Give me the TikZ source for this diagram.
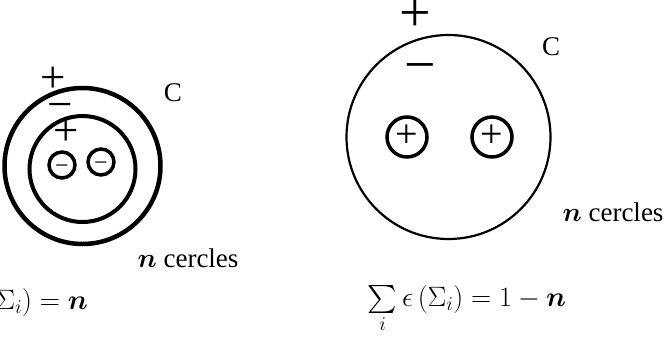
\RequirePackage{fix-cm}
\documentclass[tikz,border=0pt]{standalone}
\usepackage{amsmath,amssymb}
\usepackage{bm}
\usepackage{fontspec}
\setmainfont{Liberation Serif}
\usetikzlibrary{positioning}

\tikzset{
  ring/.style={circle, draw, line width=3.5pt, inner sep=0pt, text depth=0pt},
  sign/.style={inner sep=0pt, text height=22.5pt, text depth=0pt, font=\fontsize{45}{45}\selectfont},
  bigsign/.style={sign, text height=28pt, font=\fontsize{56}{56}\selectfont},
  lbl/.style={inner sep=0pt, font=\fontsize{27}{30}\selectfont},
  formula/.style={inner sep=0pt, font=\fontsize{28}{31}\selectfont}
}

\begin{document}
\begin{tikzpicture}[x=1pt,y=-1pt]
  \useasboundingbox (0,0) rectangle (666,349);
  \clip (0,0) rectangle (666,349);
  % Left: C enclosing one circle with two holes
  \begin{scope}
    \draw[line width=4.5pt] (82.5,166) circle (78);
    \draw[line width=4pt] (82.5,169) circle (53);
    \node[ring, minimum size=26pt, text height=17pt, font=\fontsize{24}{24}\selectfont] (m1) at (62,165) {−};
    \node[ring, minimum size=26pt, text height=17pt, font=\fontsize{24}{24}\selectfont] (m2) at (101,162) {−};
    \node[sign] (p1) at (53,81) {+};
    \node[sign] (n1) at (60,108) {−};
    \node[sign] (p2) at (66,134) {+};
    \node[lbl] (c1) at (173,93) {C};
    \node[lbl, anchor=base] (k1) at (188,267) {$\bm{n}$ cercles};
    \node[formula, anchor=base east] (f1) at (88,309)
      {$\sum\limits_i \epsilon\,(\Sigma_i) = \bm{n}$};
  \end{scope}
  % Right: C enclosing n separate circles
  \begin{scope}
    \draw[line width=2.2pt] (448.5,137) circle (102);
    \node[ring, minimum size=40pt, text height=20pt, font=\fontsize{40}{40}\selectfont] (q1) at (407,137) {+};
    \node[ring, minimum size=40pt, text height=20pt, font=\fontsize{40}{40}\selectfont] (q2) at (492,137) {+};
    \node[bigsign] (p3) at (415,17) {+};
    \node[bigsign] (n3) at (420,69) {−};
    \node[lbl] (c2) at (551,47) {C};
    \node[lbl, anchor=base] (k2) at (613,221) {$\bm{n}$ cercles};
    \node[formula, anchor=base] (f2) at (467,306)
      {$\sum\limits_i \epsilon\,(\Sigma_i) = 1 - \bm{n}$};
  \end{scope}
\end{tikzpicture}
\end{document}
